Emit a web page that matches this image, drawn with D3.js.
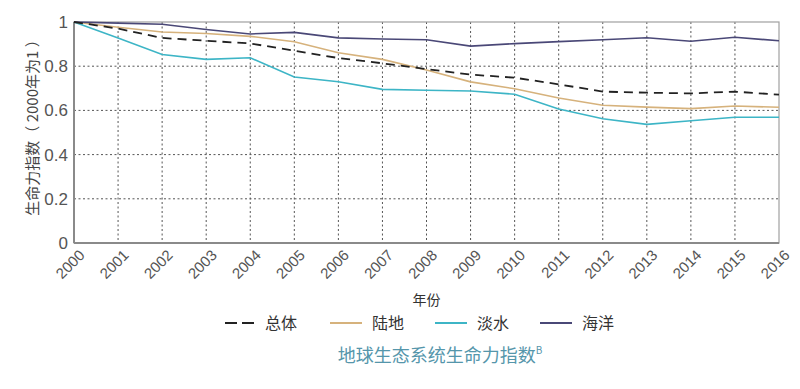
<!DOCTYPE html>
<html>
<head>
<meta charset="utf-8">
<style>
  body { margin: 0; background: #fff; font-family: "Noto Sans CJK SC", "Noto Sans", sans-serif; }
  .axis text { fill: #555; }
  .axis .domain { display: none; }
  .axis .tick line { display: none; }
</style>
</head>
<body>
<div id="chart"></div>
<script src="https://cdn.jsdelivr.net/npm/d3@7"></script>
<script>
  var years = [2000, 2001, 2002, 2003, 2004, 2005, 2006, 2007, 2008, 2009, 2010, 2011, 2012, 2013, 2014, 2015, 2016];
  var yTicks = [0, 0.2, 0.4, 0.6, 0.8, 1];

  var overall = [1, 0.97, 0.928, 0.915, 0.903, 0.87, 0.837, 0.813, 0.787, 0.762, 0.748, 0.718, 0.685, 0.68, 0.677, 0.685, 0.671];
  var land = [1, 0.976, 0.955, 0.948, 0.935, 0.911, 0.861, 0.831, 0.783, 0.729, 0.698, 0.656, 0.623, 0.615, 0.608, 0.62, 0.614];
  var freshwater = [1, 0.928, 0.853, 0.831, 0.838, 0.751, 0.73, 0.695, 0.691, 0.688, 0.673, 0.606, 0.562, 0.537, 0.553, 0.569, 0.569];
  var ocean = [1, 0.995, 0.99, 0.966, 0.946, 0.953, 0.928, 0.923, 0.92, 0.891, 0.902, 0.911, 0.92, 0.929, 0.913, 0.931, 0.915];

  var seriesNames = ["总体", "陆地", "淡水", "海洋"];
  var seriesValues = [overall, land, freshwater, ocean];
  var seriesColors = ["#222222", "#d6b27c", "#3db5c6", "#4a4877"];
  var seriesDash = ["9,6", null, null, null];

  var W = 800, H = 389;
  var margin = { top: 22, left: 74, right: 21, bottom: 146 };
  var width = W - margin.left - margin.right,
      height = H - margin.top - margin.bottom;

  var svg = d3.select("#chart").append("svg")
      .attr("width", W)
      .attr("height", H);

  var g = svg.append("g")
      .attr("transform", "translate(" + margin.left + "," + margin.top + ")");

  var x = d3.scaleLinear().domain([2000, 2016]).range([0, width]);
  var y = d3.scaleLinear().domain([0, 1]).range([height, 0]);

  // grid
  g.selectAll(".vgrid").data(years.slice(1, -1)).enter().append("line")
      .attr("x1", function (d) { return x(d); })
      .attr("x2", function (d) { return x(d); })
      .attr("y1", 0).attr("y2", height)
      .attr("stroke", "#555").attr("stroke-width", 1).attr("stroke-dasharray", "2,2.5");
  g.selectAll(".hgrid").data(yTicks.slice(1, -1)).enter().append("line")
      .attr("y1", function (d) { return y(d); })
      .attr("y2", function (d) { return y(d); })
      .attr("x1", 0).attr("x2", width)
      .attr("stroke", "#555").attr("stroke-width", 1).attr("stroke-dasharray", "2,2.5");

  // frame
  g.append("rect")
      .attr("width", width).attr("height", height)
      .attr("fill", "none").attr("stroke", "#a0a0a0").attr("stroke-width", 1.2);
  g.append("line").attr("x1", 0).attr("x2", 0).attr("y1", 0).attr("y2", height)
      .attr("stroke", "#8a8a8a").attr("stroke-width", 2);
  g.append("line").attr("x1", 0).attr("x2", width).attr("y1", height).attr("y2", height)
      .attr("stroke", "#8a8a8a").attr("stroke-width", 2);

  // axes
  var yAxis = d3.axisLeft(y).tickValues(yTicks).tickFormat(function (d) { return d3.format("")(d); }).tickSize(0).tickPadding(6);
  g.append("g").attr("class", "y axis").call(yAxis)
      .selectAll("text").style("font-size", "17px").style("font-family", "Liberation Sans, Arial, sans-serif");

  var xAxis = d3.axisBottom(x).tickValues(years).tickFormat(d3.format("d")).tickSize(0);
  g.append("g").attr("class", "x axis")
      .attr("transform", "translate(0," + height + ")")
      .call(xAxis)
      .selectAll("text")
      .style("font-size", "15px")
      .style("font-family", "Liberation Sans, Arial, sans-serif")
      .style("text-anchor", "end")
      .attr("dy", 0)
      .attr("transform", "translate(9,11) rotate(-45)");

  // axis titles
  svg.append("text")
      .attr("transform", "translate(33," + (margin.top + 102) + ") rotate(-90)")
      .attr("text-anchor", "middle")
      .attr("dy", "0.35em")
      .style("font-size", "15px")
      .style("fill", "#444")
      .text("生命力指数（ 2000年为1 ）");

  svg.append("text")
      .attr("x", margin.left + width / 2)
      .attr("y", 305)
      .attr("text-anchor", "middle")
      .style("font-size", "14px")
      .style("fill", "#333")
      .text("年份");

  // lines
  var line = d3.line()
      .x(function (d, i) { return x(years[i]); })
      .y(function (d) { return y(d); });

  var order = [2, 1, 3, 0];
  order.forEach(function (k) {
      g.append("path")
          .datum(seriesValues[k])
          .attr("fill", "none")
          .attr("stroke", seriesColors[k])
          .attr("stroke-width", k === 0 ? 1.8 : 1.6)
          .attr("stroke-dasharray", seriesDash[k])
          .attr("d", line);
  });

  // legend
  var legendX = [225, 330, 435, 540];
  var legend = svg.selectAll(".legend").data(seriesNames).enter().append("g")
      .attr("transform", function (d, i) { return "translate(" + legendX[i] + ",323)"; });
  legend.append("line")
      .attr("x1", 0).attr("x2", 32).attr("y1", 0).attr("y2", 0)
      .attr("stroke", function (d, i) { return seriesColors[i]; })
      .attr("stroke-width", 2)
      .attr("stroke-dasharray", function (d, i) { return i === 0 ? "12,5" : null; });
  legend.append("text")
      .attr("x", function (d, i) { return i === 0 ? 40 : 42; })
      .attr("dy", "0.35em")
      .style("font-size", "16px")
      .style("fill", "#333")
      .text(function (d) { return d; });

  // title
  var title = svg.append("text")
      .attr("x", 440)
      .attr("y", 362)
      .attr("text-anchor", "middle")
      .style("font-size", "18px")
      .style("fill", "#5596ab");
  title.append("tspan").text("地球生态系统生命力指数");
  title.append("tspan").attr("dy", -8).style("font-size", "10px").text("B");
</script>
</body>
</html>
